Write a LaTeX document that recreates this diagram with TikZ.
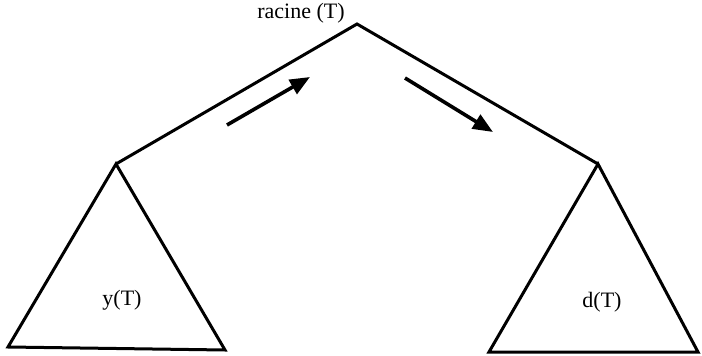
\documentclass[tikz,border=0pt]{standalone}
\usepackage{fontspec}
\setmainfont{Liberation Serif}
\usetikzlibrary{arrows.meta,positioning}
\tikzset{
  edge/.style={line width=3pt, draw=black, line join=miter},
  tri/.style={edge},
  walk/.style={-{Triangle[length=20pt,width=16pt]}, line width=3.6pt, draw=black},
  lbl/.style={inner sep=0pt, font=\fontsize{22}{26}\selectfont}
}
\begin{document}
\begin{tikzpicture}[x=1pt,y=-1pt]
    \useasboundingbox (0,0) rectangle (702,356);
    \coordinate (root) at (357,24);
    \coordinate (ly) at (116,164);
    \coordinate (rd) at (598,164);
    \coordinate (lyA) at (8,347);
    \coordinate (lyB) at (225,350);
    \coordinate (rdA) at (489,352);
    \coordinate (rdB) at (698,352);

    \node[lbl, anchor=base] (rootlbl) at (301,19) {racine (T)};
    \node[lbl] (yT) at (122,300) {y(T)};
    \node[lbl] (dT) at (602,302) {d(T)};

    \draw[edge] (ly) -- (root) -- (rd);
    \draw[tri] (ly) -- (lyA) -- (lyB) -- cycle;
    \draw[tri] (rd) -- (rdA) -- (rdB) -- cycle;

    \coordinate (upA) at (227,125);
    \coordinate (upB) at (310,77);
    \coordinate (dnA) at (405,78);
    \coordinate (dnB) at (493,132);
    \draw[walk] (upA) -- (upB);
    \draw[walk] (dnA) -- (dnB);
  \end{tikzpicture}
\end{document}
